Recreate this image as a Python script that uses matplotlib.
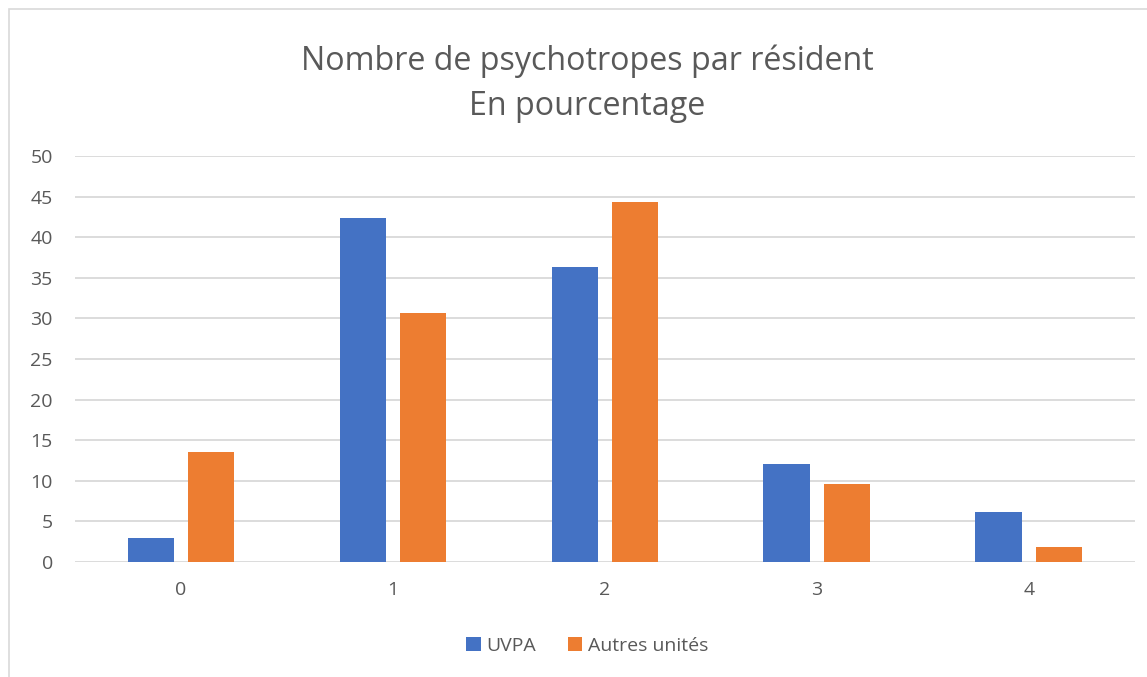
import matplotlib
matplotlib.use("Agg")
import matplotlib.pyplot as plt
import numpy as np

# nombre de psychotropes par résident, en %
categories = ["0", "1", "2", "3", "4"]
uvpa = [3.0, 42.4, 36.3, 12.1, 6.1]
autres_unites = [13.5, 30.7, 44.3, 9.6, 1.9]
y_ticks = [0, 5, 10, 15, 20, 25, 30, 35, 40, 45, 50]

blue = "#4472C4"
orange = "#ED7D31"
text_grey = "#595959"

plt.rcParams["font.family"] = ["Open Sans", "DejaVu Sans"]

fig = plt.figure(figsize=(11.47, 6.77), dpi=100)
ax = fig.add_axes([0.0654, 0.1699, 0.924, 0.5997])

x = np.arange(len(categories))
width = 0.22
offset = 0.142
ax.bar(x - offset, uvpa, width, color=blue, label="UVPA", zorder=3)
ax.bar(x + offset, autres_unites, width, color=orange, label="Autres unités", zorder=3)

ax.set_xlim(-0.5, len(categories) - 0.5)
ax.set_ylim(0, 50)
ax.set_yticks(y_ticks)
ax.set_xticks(x)
ax.set_xticklabels(categories)
ax.yaxis.grid(True, color="#d9d9d9", linewidth=1.3, zorder=0)
ax.tick_params(length=0, labelsize=14, colors=text_grey)
ax.tick_params(axis="x", pad=14)
ax.tick_params(axis="y", pad=16)
for side in ["top", "right", "left", "bottom"]:
    ax.spines[side].set_visible(False)

fig.text(0.512, 0.876, "Nombre de psychotropes par résident\nEn pourcentage",
         ha="center", va="center", fontsize=23.2, color=text_grey, linespacing=1.5)

leg = fig.legend(loc="center", bbox_to_anchor=(0.512, 0.046), ncol=2, frameon=False,
                 fontsize=14, handlelength=0.75, handleheight=0.75, handletextpad=0.3,
                 columnspacing=1.6)
for t in leg.get_texts():
    t.set_color(text_grey)

# cadre du graphique
fig.patches.append(matplotlib.patches.Rectangle((0.008, -0.01), 1.0, 0.996, transform=fig.transFigure,
                                                fill=False, edgecolor="#d9d9d9", linewidth=1.2))

fig.savefig("out.png", dpi=100)
